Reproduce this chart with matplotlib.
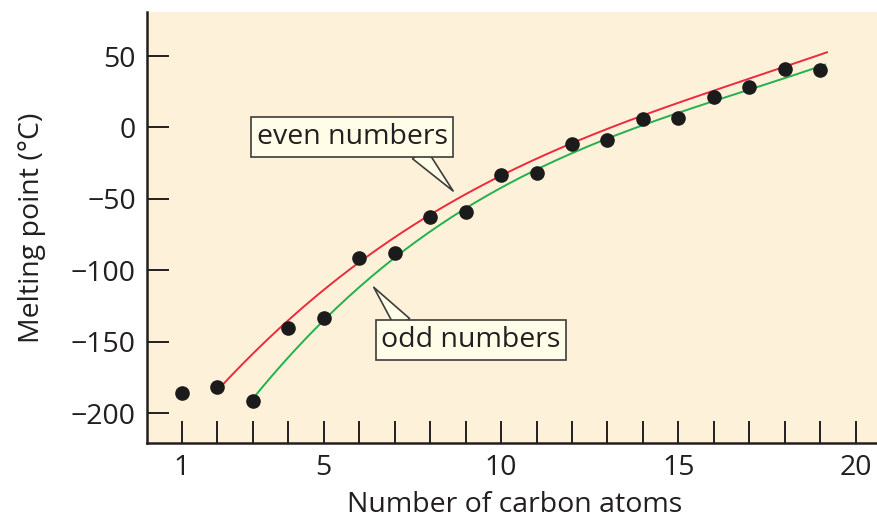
import numpy as np
import matplotlib
matplotlib.use("Agg")
import matplotlib.pyplot as plt

plt.rcParams['font.family'] = ['Open Sans', 'DejaVu Sans']

# melting points of straight-chain alkanes, C1..C19
carbons = [1, 2, 3, 4, 5, 6, 7, 8, 9, 10, 11, 12, 13, 14, 15, 16, 17, 18, 19]
melting = [-185.6, -181.8, -191.2, -140.6, -133.6, -91.1, -87.6, -62.5, -59.0, -33.3,
           -31.7, -11.8, -8.8, 5.9, 6.8, 21.5, 28.5, 40.9, 40.2]

# hand-drawn trend lines, sampled along each curve
even_curve_x = [2, 4, 6, 8, 10, 12, 14, 16, 18, 19.19]
even_curve_y = [-181.8, -140.0, -91.1, -62.5, -31.0, -11.8, 8.7, 24.0, 43.0, 53.0]
odd_curve_x = [3, 5, 7, 9, 11, 13, 15, 17, 19.14]
odd_curve_y = [-191.2, -133.6, -87.6, -59.0, -31.7, -8.8, 12.2, 28.5, 42.5]

x_ticks = list(range(1, 21))
x_labels = ['1' if n == 1 else (str(n) if n % 5 == 0 else '') for n in x_ticks]
y_ticks = [-200, -150, -100, -50, 0, 50]

text_col = '#231f20'
bg_col = '#fdf1da'
box_col = '#fffde8'
edge_col = '#3c3c3c'
fsize = 20.5


def smooth(xs, ys):
    coef = np.polyfit(xs, ys, 3)
    xx = np.linspace(xs[0], xs[-1], 200)
    return xx, np.polyval(coef, xx)


fig = plt.figure(figsize=(8.78, 5.22), dpi=100)
ax = fig.add_axes([0.1674, 0.1513, 0.8326, 0.8257])
ax.set_facecolor(bg_col)

xe, ye = smooth(even_curve_x, even_curve_y)
xo, yo = smooth(odd_curve_x, odd_curve_y)
ax.plot(xe, ye, color='#ec2a3c', lw=1.4, zorder=2)
ax.plot(xo, yo, color='#22b14c', lw=1.4, zorder=2)
ax.plot(carbons, melting, 'o', color='#1b1b1b', ms=9.5, zorder=3)

ax.set_xlim(0.013, 20.63)
ax.set_ylim(-220.8, 80.8)
ax.set_xticks(x_ticks)
ax.set_xticklabels(x_labels)
ax.set_yticks(y_ticks)
ax.set_yticklabels([str(v).replace('-', '\u2212') for v in y_ticks])

for side in ['top', 'right']:
    ax.spines[side].set_visible(False)
for side in ['left', 'bottom']:
    ax.spines[side].set_linewidth(1.8)
    ax.spines[side].set_color(text_col)

ax.tick_params(direction='in', length=15.5, width=1.4, color=text_col,
               labelsize=fsize, labelcolor=text_col)
ax.tick_params(axis='x', pad=8)
ax.tick_params(axis='y', pad=8)

ax.set_xlabel('Number of carbon atoms', fontsize=fsize, color=text_col)
ax.set_ylabel('Melting point (\u00b0C)', fontsize=fsize, color=text_col)
ax.xaxis.set_label_coords(0.503, -0.112)
ax.yaxis.set_label_coords(-0.138, 0.5)

box = dict(boxstyle='square,pad=0.2', fc=box_col, ec=edge_col, lw=1.2)
tail = 'wedge,tail_width=0.6,shrink_factor=0.5'

ax.annotate('even numbers', xy=(8.70, -45.9), xytext=(5.80, -6.7),
            ha='center', va='center', fontsize=fsize, color=text_col, bbox=box,
            arrowprops=dict(arrowstyle=tail, fc=box_col, ec=edge_col, lw=1.2,
                            patchA=None, relpos=(0.84, 0.0)),
            zorder=4)
ax.annotate('odd numbers', xy=(6.36, -110.3), xytext=(9.15, -148.7),
            ha='center', va='center', fontsize=fsize, color=text_col, bbox=box,
            arrowprops=dict(arrowstyle=tail, fc=box_col, ec=edge_col, lw=1.2,
                            patchA=None, relpos=(0.13, 1.0)),
            zorder=4)

fig.savefig('out.png', dpi=100)
